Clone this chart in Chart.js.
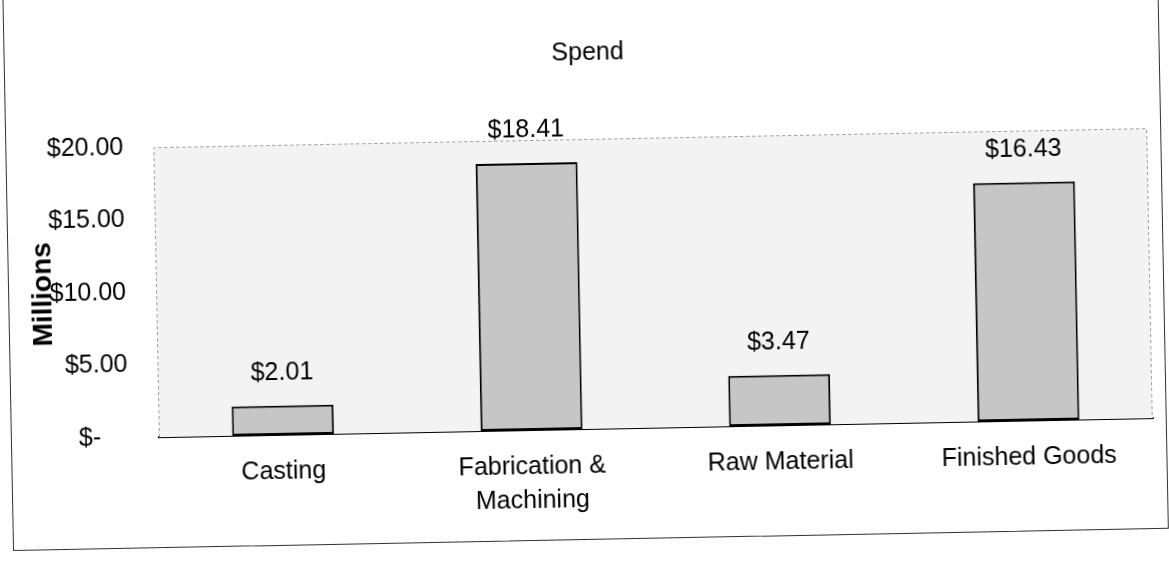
<!DOCTYPE html>
<html>
<head>
<meta charset="utf-8">
<script src="https://cdn.jsdelivr.net/npm/chart.js@4.4.0/dist/chart.umd.min.js"></script>
<style>
  html, body { margin: 0; padding: 0; background: #ffffff; overflow: hidden; }
  #page { position: absolute; left: 0; top: 0; width: 1169px; height: 564px; transform: rotate(-1.1deg); transform-origin: 584.5px 282px; }
  #frame { position: absolute; left: 8px; top: -40px; width: 1156px; height: 580px; border: 1px solid #333; box-sizing: border-box; }
  #myChart { position: absolute; left: 0; top: 0; }
</style>
</head>
<body>
<div id="page">
  <div id="frame"></div>
  <canvas id="myChart" width="1169" height="564"></canvas>
</div>
<script>
// chart data
const categories = ['Casting', ['Fabrication &', 'Machining'], 'Raw Material', 'Finished Goods'];
const spend = [2.01, 18.41, 3.47, 16.43];
const yTickValues = [0, 5, 10, 15, 20];
const chartTitle = 'Spend';
const yTitle = 'Millions';

const FONT = '"Liberation Sans", Arial, sans-serif';

function money(v) {
    if (v === 0) return '$-    ';
    return '$' + v.toFixed(2);
}

// plot area background + dotted border, title, value labels
const spendDecor = {
    id: 'spendDecor',
    beforeDatasetsDraw(chart) {
        const ctx = chart.ctx;
        const a = chart.chartArea;
        ctx.save();
        ctx.fillStyle = '#f3f3f3';
        ctx.fillRect(a.left, a.top, a.right - a.left, a.bottom - a.top);
        ctx.strokeStyle = '#9a9a9a';
        ctx.lineWidth = 1;
        ctx.setLineDash([3, 3]);
        ctx.beginPath();
        ctx.moveTo(a.left + 0.5, a.bottom);
        ctx.lineTo(a.left + 0.5, a.top + 0.5);
        ctx.lineTo(a.right - 0.5, a.top + 0.5);
        ctx.lineTo(a.right - 0.5, a.bottom);
        ctx.stroke();
        ctx.restore();
    },
    afterDraw(chart) {
        const ctx = chart.ctx;
        ctx.save();
        ctx.fillStyle = '#000';
        ctx.font = '25px ' + FONT;
        ctx.textAlign = 'center';
        ctx.textBaseline = 'middle';
        ctx.fillText(chartTitle, 592, 53);

        ctx.textBaseline = 'bottom';
        const meta = chart.getDatasetMeta(0);
        meta.data.forEach((bar, i) => {
            ctx.fillText(money(spend[i]), bar.x, bar.y - 20);
        });
        ctx.restore();
    }
};

const ctx = document.getElementById('myChart').getContext('2d');
const myChart = new Chart(ctx, {
    type: 'bar',
    data: {
        labels: categories,
        datasets: [{
            label: chartTitle,
            data: spend,
            backgroundColor: '#c6c6c6',
            borderColor: '#000000',
            borderWidth: 2,
            borderSkipped: false,
            categoryPercentage: 1,
            barPercentage: 0.41
        }]
    },
    options: {
        responsive: false,
        animation: false,
        layout: {
            padding: { top: 139, right: 19, bottom: 0, left: 0 }
        },
        plugins: {
            legend: { display: false },
            title: { display: false },
            tooltip: { enabled: false }
        },
        scales: {
            x: {
                grid: { display: false, drawTicks: false },
                border: { display: true, color: '#000', width: 2 },
                ticks: {
                    color: '#000',
                    padding: 20,
                    font: { family: FONT, size: 25, lineHeight: 1.36 },
                    maxRotation: 0,
                    autoSkip: false
                },
                afterFit(scale) { scale.height = 135; }
            },
            y: {
                min: 0,
                max: 20,
                afterBuildTicks(scale) {
                    scale.ticks = yTickValues.map(v => ({ value: v }));
                },
                grid: { display: false, drawTicks: false },
                border: { display: false },
                ticks: {
                    color: '#000',
                    padding: 30,
                    font: { family: FONT, size: 25 },
                    callback: (v) => money(v)
                },
                title: {
                    display: true,
                    text: yTitle,
                    color: '#000',
                    font: { family: FONT, size: 28, weight: 'bold' },
                    padding: { top: 26, bottom: 0 }
                },
                afterFit(scale) { scale.width = 156; }
            }
        }
    },
    plugins: [spendDecor]
});
</script>
</body>
</html>
